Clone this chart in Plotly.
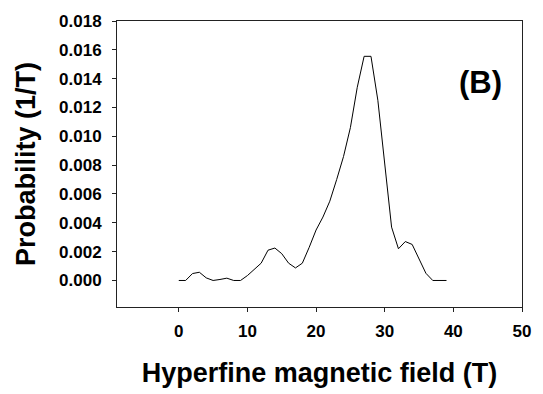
import plotly.graph_objects as go

field_T = list(range(0, 40))
probability = [0.0, 0.0, 0.00048, 0.00057, 0.00018, 0.0, 0.00007, 0.00016, 0.0, 0.0,
               0.00034, 0.00076, 0.0012, 0.0021, 0.00225, 0.00186, 0.0012, 0.00087, 0.0012, 0.0023,
               0.0035, 0.0044, 0.0055, 0.0070, 0.0086, 0.0106, 0.0134, 0.01555, 0.01555, 0.0125,
               0.0081, 0.0037, 0.0022, 0.0027, 0.0025, 0.0015, 0.0005, 0.0, 0.0, 0.0]
x_ticks = [0, 10, 20, 30, 40, 50]
y_ticks = [0.000, 0.002, 0.004, 0.006, 0.008, 0.010, 0.012, 0.014, 0.016, 0.018]
panel_label = "(B)"

FONT = "Liberation Sans, Arial, sans-serif"

fig = go.Figure()
fig.add_trace(go.Scatter(x=field_T, y=probability, mode="lines",
                         line=dict(color="black", width=1), showlegend=False))

fig.add_annotation(x=43.9, y=0.0137, text="<b>%s</b>" % panel_label, showarrow=False,
                   font=dict(family=FONT, size=31, color="black"))

axis_common = dict(showgrid=False, zeroline=False, showline=True, linecolor="#222",
                   linewidth=1, mirror=True, ticks="outside", ticklen=4, tickwidth=1,
                   tickcolor="#222", tickfont=dict(family=FONT, size=17, color="black"))

fig.update_xaxes(range=[-9, 50], tickvals=x_ticks, ticktext=["<b>%d</b>" % v for v in x_ticks],
                 ticklabelstandoff=5,
                 title=dict(text="<b>Hyperfine magnetic field (T)</b>",
                            font=dict(family=FONT, size=27, color="black"), standoff=22),
                 **axis_common)
fig.update_yaxes(range=[-0.00184, 0.018], tickvals=y_ticks,
                 ticktext=["<b>%.3f</b>" % v for v in y_ticks],
                 ticklabelstandoff=7,
                 title=dict(text="<b>Probability (1/T)</b>",
                            font=dict(family=FONT, size=27, color="black"), standoff=15),
                 **axis_common)

fig.update_layout(width=543, height=394, margin=dict(l=117, r=13, t=19.5, b=86.3),
                  paper_bgcolor="white", plot_bgcolor="white")

fig.write_html("out.html")
